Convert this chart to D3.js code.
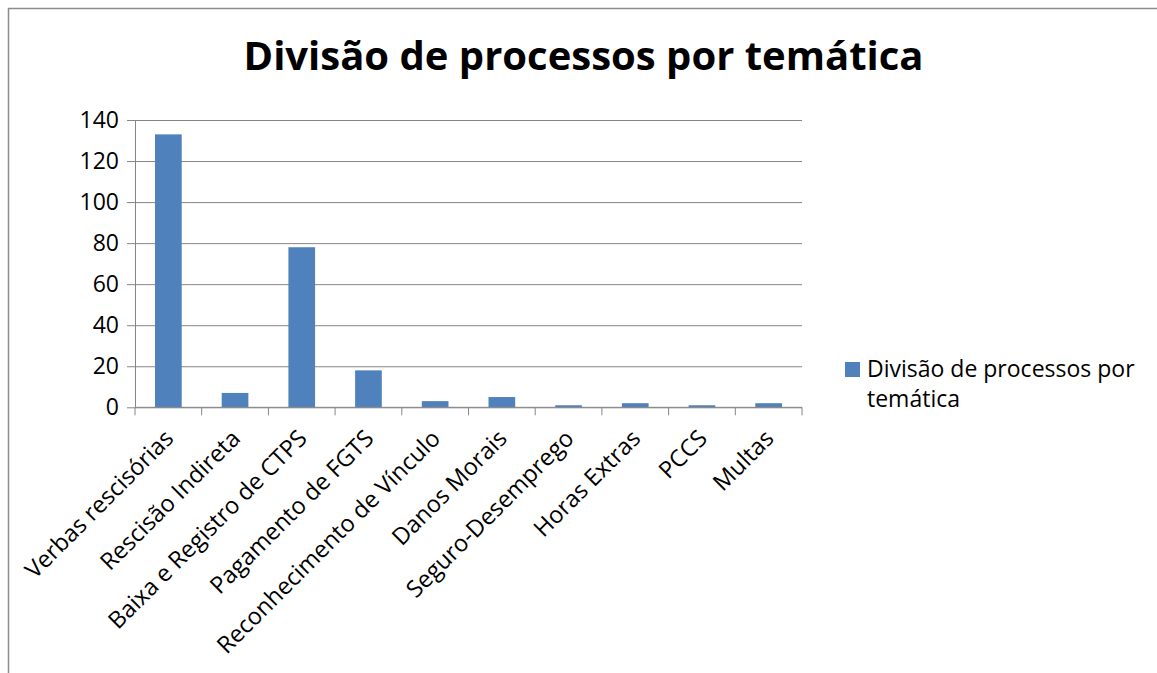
<!DOCTYPE html>
<html><head><meta charset="utf-8">
<script src="https://cdn.jsdelivr.net/npm/d3@7"></script>
<style>
html,body{margin:0;padding:0;background:#fff;}
svg{display:block;font-family:"Open Sans",sans-serif;}
</style></head><body>
<svg id="chart" width="1157" height="673"></svg>
<script>
const title = "Divisão de processos por temática";
const seriesName = "Divisão de processos por temática";
const categories = ["Verbas rescisórias","Rescisão Indireta","Baixa e Registro de CTPS","Pagamento de FGTS","Reconhecimento de Vínculo","Danos Morais","Seguro-Desemprego","Horas Extras","PCCS","Multas"];
const values = [133,7,78,18,3,5,1,2,1,2];
const yTicks = [0,20,40,60,80,100,120,140];

const svg = d3.select("#chart");
const W = 1157, H = 673;
const m = {left:135, right:802, top:120, bottom:407.3};
const grid = "#868686";
const FS = 23;

svg.append("rect").attr("x",8.5).attr("y",8.5).attr("width",W+20).attr("height",H+20)
  .attr("fill","#fff").attr("stroke","#8c8c8c").attr("stroke-width",1.5);

const x = d3.scaleBand().domain(categories).range([m.left,m.right]).paddingInner(0.6).paddingOuter(0.3);
const xb = d3.scaleBand().domain(categories).range([m.left,m.right]);
const y = d3.scaleLinear().domain([0,140]).range([m.bottom,m.top]);

const yAxis = d3.axisLeft(y).tickValues(yTicks).tickSize(-(m.right-m.left)).tickPadding(16).tickSizeOuter(0);
const gy = svg.append("g").attr("transform",`translate(${m.left},0)`).call(yAxis);
gy.select(".domain").attr("stroke",grid);
gy.selectAll(".tick line").attr("stroke",grid).attr("x1",-8);
gy.selectAll(".tick text").attr("font-size",FS).attr("fill","#000").attr("font-family","'Open Sans',sans-serif");

svg.append("g").selectAll("rect").data(values).join("rect")
  .attr("x",(d,i)=>x(categories[i]))
  .attr("width",x.bandwidth())
  .attr("y",d=>y(d))
  .attr("height",d=>y(0)-y(d))
  .attr("fill","#4F81BD");

const gx = svg.append("g").attr("transform",`translate(0,${m.bottom})`);
gx.append("line").attr("x1",m.left).attr("x2",m.right).attr("stroke",grid);
const bounds = categories.map(c=>xb(c)).concat([m.right]);
gx.selectAll("line.t").data(bounds).join("line").attr("class","t")
  .attr("x1",d=>d).attr("x2",d=>d).attr("y1",0).attr("y2",8).attr("stroke",grid);
gx.selectAll("text").data(categories).join("text")
  .attr("transform",c=>`translate(${xb(c)+xb.bandwidth()/2-5},${21}) rotate(-45)`)
  .attr("text-anchor","end").attr("dy","0.7em")
  .attr("font-size",23.5).text(c=>c);

svg.append("text").attr("x",583.5).attr("y",70).attr("text-anchor","middle")
  .attr("font-size",40).attr("font-weight","bold").text(title);

const lg = svg.append("g");
lg.append("rect").attr("x",845).attr("y",362).attr("width",15).attr("height",15).attr("fill","#4F81BD");
const words = seriesName.split(" ");
lg.append("text").attr("x",867).attr("y",377).attr("font-size",FS).text(words.slice(0,4).join(" "));
lg.append("text").attr("x",867).attr("y",407).attr("font-size",FS).text(words.slice(4).join(" "));
</script></body></html>
